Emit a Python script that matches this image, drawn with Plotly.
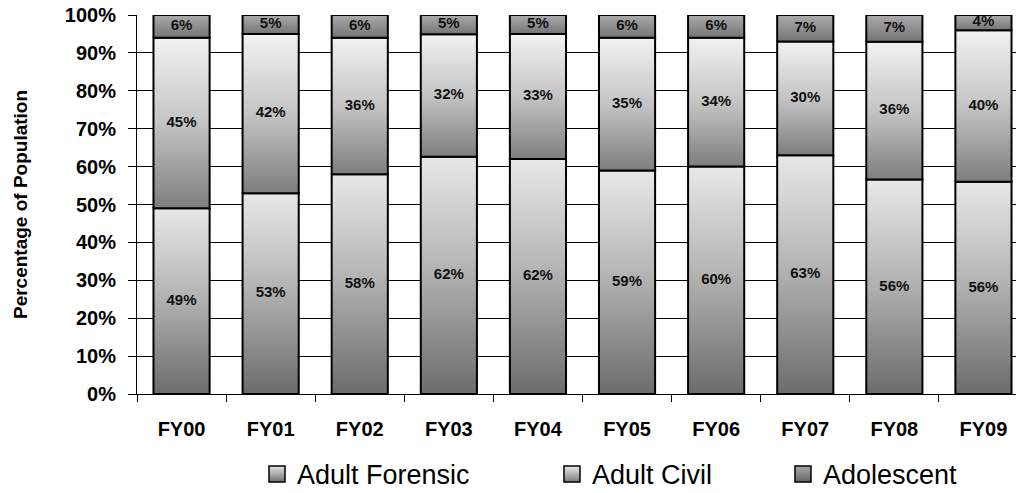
import plotly.graph_objects as go

# Share of population by fiscal year (percent)
categories = ["FY00", "FY01", "FY02", "FY03", "FY04", "FY05", "FY06", "FY07", "FY08", "FY09"]
adult_forensic = [49, 53, 58, 62, 62, 59, 60, 63, 56, 56]
adult_civil = [45, 42, 36, 32, 33, 35, 34, 30, 36, 40]
adolescent = [6, 5, 6, 5, 5, 6, 6, 7, 7, 4]
y_ticks = [0, 10, 20, 30, 40, 50, 60, 70, 80, 90, 100]

series = [
    ("Adult Forensic", adult_forensic,
     [[0, "#6c6c6c"], [0.55, "#b6b6b6"], [1, "#e8e8e8"]], "#e6e6e6", "#707070"),
    ("Adult Civil", adult_civil,
     [[0, "#7e7e7e"], [0.5, "#c4c4c4"], [1, "#f2f2f2"]], "#ededed", "#7a7a7a"),
    ("Adolescent", adolescent,
     [[0, "#747474"], [1, "#ababab"]], "#a8a8a8", "#666666"),
]

FONT = "Arial, 'Liberation Sans', sans-serif"
half_w = 0.315  # half of a bar's width in category units

fig = go.Figure()

totals = [sum(s[1][i] for s in series) for i in range(len(categories))]
base = [0.0] * len(categories)
label_x, label_y, label_t = [], [], []

for name, vals, scale, top_c, bot_c in series:
    for i, v in enumerate(vals):
        share = 100.0 * v / totals[i]
        y0, y1 = base[i], base[i] + share
        x0, x1 = i - half_w, i + half_w
        fig.add_trace(go.Scatter(
            x=[x0, x1, x1, x0, x0],
            y=[y0, y0, y1, y1, y0],
            mode="lines",
            fill="toself",
            fillgradient=dict(type="vertical", colorscale=scale),
            line=dict(color="#000000", width=2),
            showlegend=False,
            hoverinfo="skip",
        ))
        label_x.append(i)
        label_y.append((y0 + y1) / 2)
        label_t.append(f"{v}%")
        base[i] = y1

# Value labels centred in each segment
fig.add_trace(go.Scatter(
    x=label_x, y=label_y, text=label_t, mode="text",
    textfont=dict(family=FONT, size=15, color="#111111", weight="bold"),
    showlegend=False, hoverinfo="skip",
))

# Legend swatches, one legend box per series so each can be placed freely
legend_ids = ["legend", "legend2", "legend3"]
for (name, vals, scale, top_c, bot_c), lid in zip(series, legend_ids):
    fig.add_trace(go.Scatter(
        x=[None], y=[None], mode="markers", name=name, legend=lid,
        marker=dict(symbol="square", size=20, color=top_c,
                    gradient=dict(type="vertical", color=bot_c),
                    line=dict(color="#000000", width=1.5)),
    ))

legend_style = dict(
    orientation="h", xanchor="left", yanchor="middle", y=-0.212,
    font=dict(family=FONT, size=27, color="#000000"),
    bgcolor="rgba(0,0,0,0)", borderwidth=0,
)

n = len(categories)
fig.update_layout(
    width=1016, height=493,
    margin=dict(l=137, r=0, t=15, b=99, autoexpand=False),
    paper_bgcolor="white", plot_bgcolor="white",
    font=dict(family=FONT, color="#000000"),
    showlegend=True,
    legend=dict(x=0.1365, **legend_style),
    legend2=dict(x=0.4721, **legend_style),
    legend3=dict(x=0.7349, **legend_style),
    xaxis=dict(
        range=[-0.5, -0.5 + 879 / 89.1],
        tickvals=list(range(n)), ticktext=categories,
        ticks="", showgrid=False, zeroline=False,
        showline=True, linecolor="#000000", linewidth=1,
        tickfont=dict(family=FONT, size=20, color="#000000", weight="bold"),
        ticklabelstandoff=17,
        minor=dict(tickvals=[i - 0.5 for i in range(n + 1)], ticks="outside",
                   ticklen=7, tickcolor="#000000", showgrid=False),
        fixedrange=True,
    ),
    yaxis=dict(
        range=[0, 100], tickvals=y_ticks,
        ticktext=[f"{t}%" for t in y_ticks],
        ticks="outside", ticklen=8, tickcolor="#000000",
        showgrid=True, gridcolor="#000000", gridwidth=1,
        zeroline=False, showline=True, linecolor="#000000", linewidth=1,
        tickfont=dict(family=FONT, size=20, color="#000000", weight="bold"),
        ticklabelstandoff=8,
        title=dict(text="Percentage of Population", standoff=32,
                   font=dict(family=FONT, size=19, color="#000000", weight="bold")),
        fixedrange=True,
    ),
)

fig.write_html("out.html")
